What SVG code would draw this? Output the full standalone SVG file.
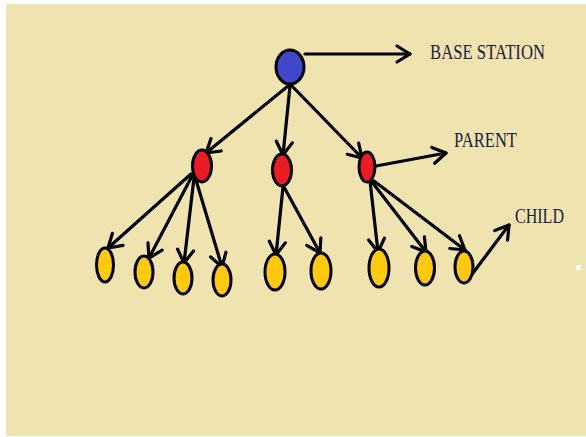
<svg xmlns="http://www.w3.org/2000/svg" width="586" height="437" viewBox="0 0 586 437">
<defs>
<style>
.node{stroke:#000;stroke-width:3}
.base{fill:#3F48CC}
.parent{fill:#ED1C24}
.child{fill:#FFC90E}
.edge{stroke:#000;stroke-width:3.2;fill:none;stroke-linecap:round;marker-end:url(#chev)}
.lbl{font-family:"Liberation Serif","Times New Roman",serif;font-size:20.5px;fill:#1c2040}
</style>
<marker id="chev" markerUnits="userSpaceOnUse" markerWidth="30" markerHeight="30" viewBox="-15 -15 30 30" refX="0" refY="0" orient="auto" overflow="visible">
<path d="M-13,-8 L0,0 L-13,8" fill="none" stroke="#000" stroke-width="3.2" stroke-linecap="round" stroke-linejoin="round"/>
</marker>
</defs>
<rect x="0" y="0" width="586" height="437" fill="#fff"/>
<rect x="6" y="4" width="580" height="432" fill="#EFE4B0"/>
<rect x="576" y="265" width="5" height="5" fill="#fff"/>
<g id="connectors">
<line class="edge" x1="305" y1="54" x2="410" y2="54"/>
<line class="edge" x1="288" y1="86" x2="206" y2="153"/>
<line class="edge" x1="290" y1="86" x2="283" y2="155"/>
<line class="edge" x1="292" y1="86" x2="362" y2="158"/>
<line class="edge" x1="376" y1="166" x2="446" y2="153"/>
<line class="edge" x1="191" y1="174" x2="108" y2="248"/>
<line class="edge" x1="192" y1="176" x2="149" y2="258"/>
<line class="edge" x1="194" y1="178" x2="184" y2="263"/>
<line class="edge" x1="196" y1="180" x2="222" y2="267"/>
<line class="edge" x1="283" y1="187" x2="276" y2="255"/>
<line class="edge" x1="284" y1="187" x2="320" y2="253"/>
<line class="edge" x1="370" y1="181" x2="378" y2="252"/>
<line class="edge" x1="372" y1="182" x2="426" y2="252"/>
<line class="edge" x1="374" y1="181" x2="465" y2="250"/>
<line class="edge" x1="473" y1="273" x2="509" y2="225"/>
</g>
<g id="base-station"><ellipse class="node base" cx="290" cy="67" rx="14" ry="17"/></g>
<g id="parent-1"><ellipse class="node parent" cx="202" cy="166" rx="9.5" ry="16"/></g>
<g id="parent-2"><ellipse class="node parent" cx="282" cy="170" rx="9.5" ry="16"/></g>
<g id="parent-3"><ellipse class="node parent" cx="367" cy="167" rx="8" ry="15"/></g>
<g id="child-1"><ellipse class="node child" cx="105" cy="265" rx="8.5" ry="17"/></g>
<g id="child-2"><ellipse class="node child" cx="144" cy="272" rx="9" ry="16"/></g>
<g id="child-3"><ellipse class="node child" cx="183" cy="278" rx="9" ry="16"/></g>
<g id="child-4"><ellipse class="node child" cx="222" cy="280" rx="9" ry="16"/></g>
<g id="child-5"><ellipse class="node child" cx="275" cy="272" rx="10" ry="18"/></g>
<g id="child-6"><ellipse class="node child" cx="321" cy="271" rx="10" ry="18"/></g>
<g id="child-7"><ellipse class="node child" cx="379" cy="268" rx="10" ry="19"/></g>
<g id="child-8"><ellipse class="node child" cx="425" cy="268" rx="9.5" ry="17"/></g>
<g id="child-9"><ellipse class="node child" cx="464" cy="267" rx="9" ry="16"/></g>
<g id="labels">
<text class="lbl" x="430" y="59" textLength="115" lengthAdjust="spacingAndGlyphs">BASE STATION</text>
<text class="lbl" x="454" y="147" textLength="63" lengthAdjust="spacingAndGlyphs">PARENT</text>
<text class="lbl" x="515" y="223" textLength="49" lengthAdjust="spacingAndGlyphs">CHILD</text>
</g>
</svg>
